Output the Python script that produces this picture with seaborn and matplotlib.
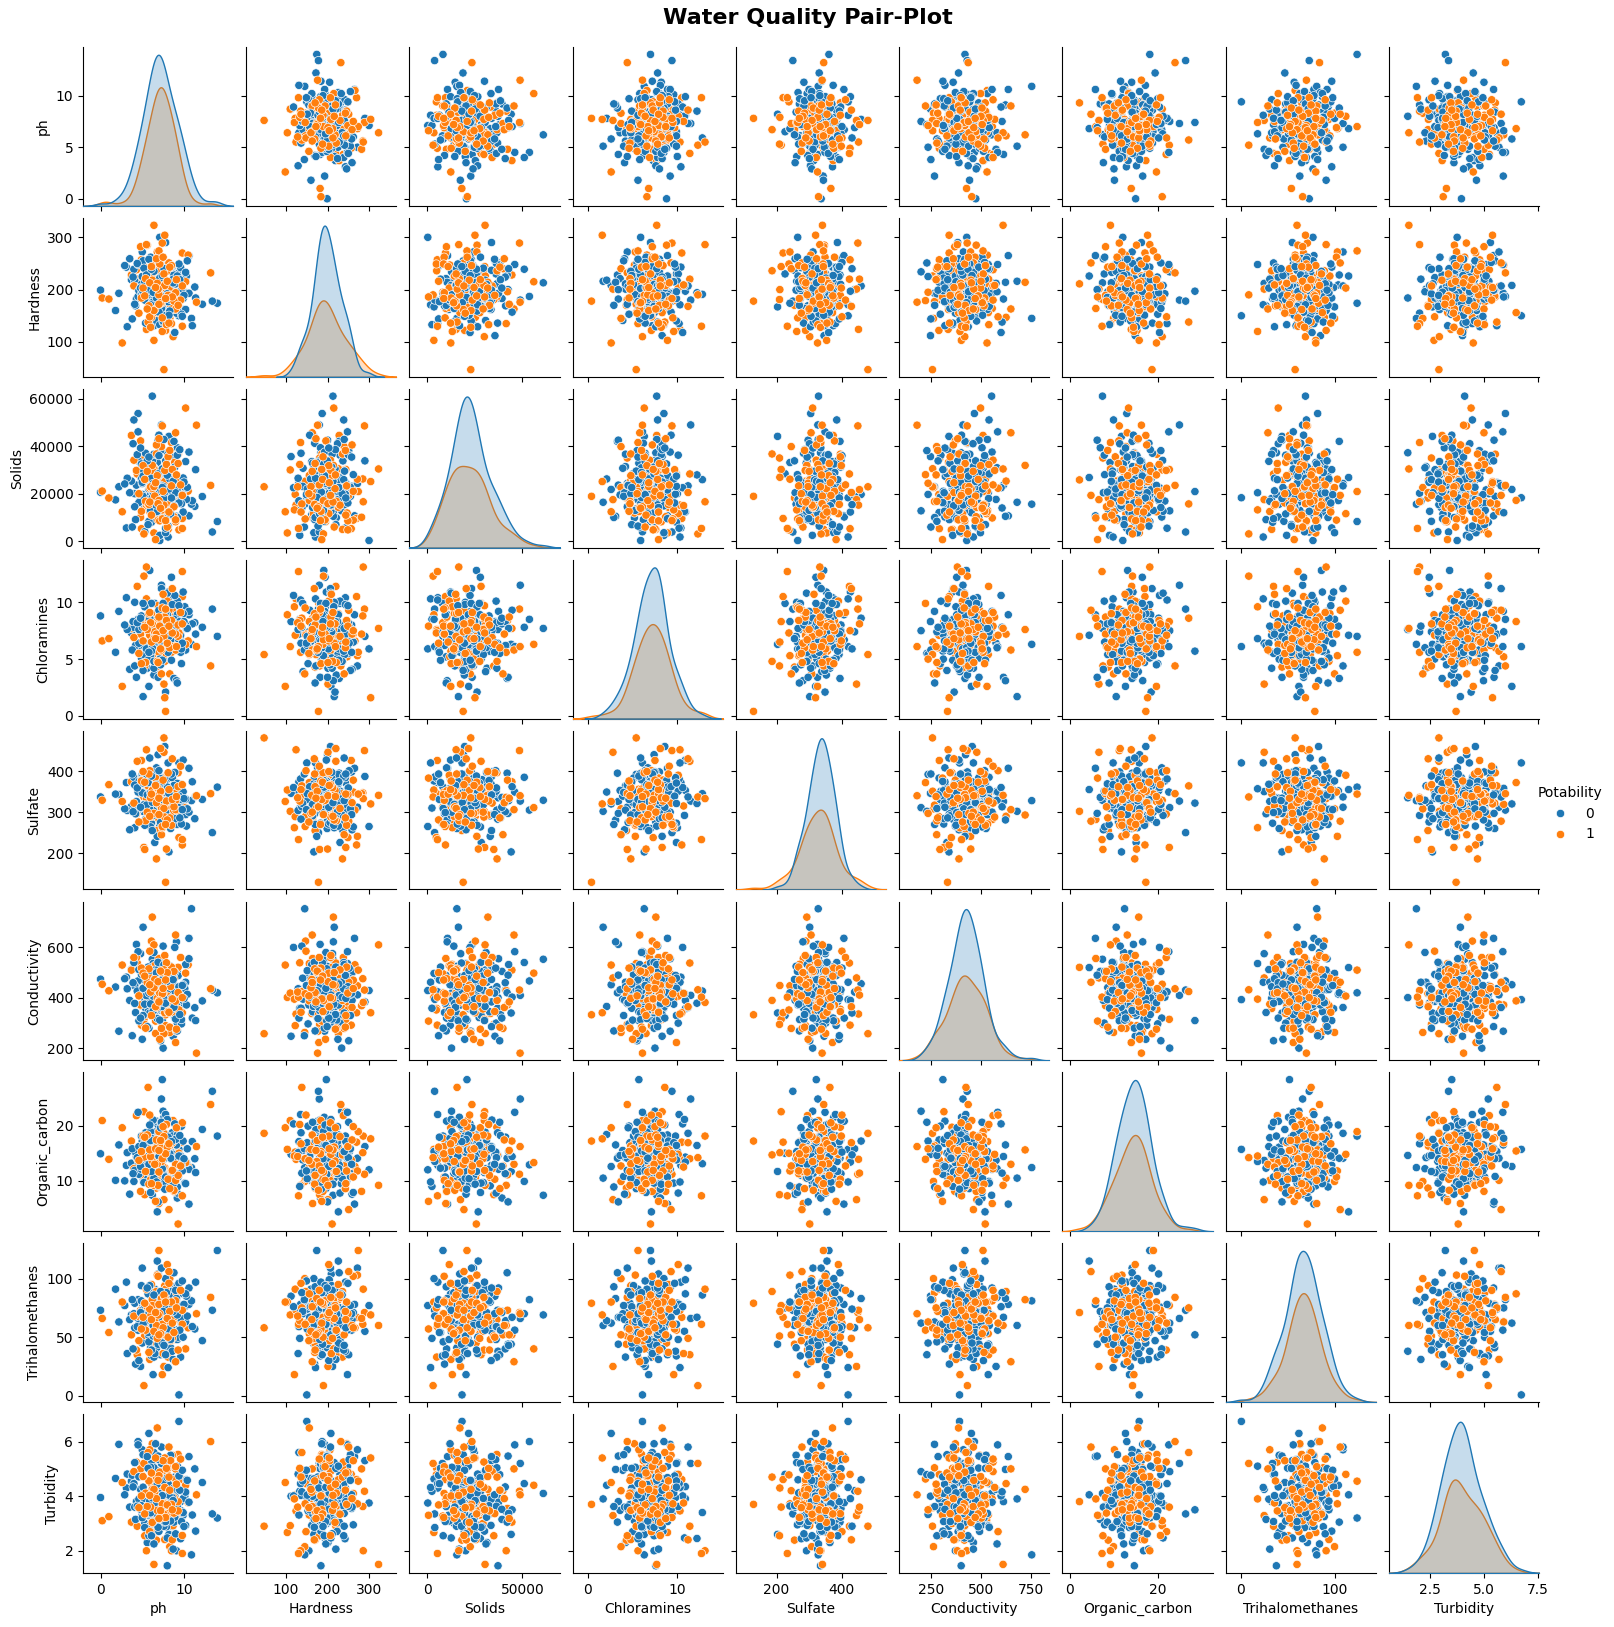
import pandas as pd
import seaborn as sns
import matplotlib
matplotlib.use('Agg')
import matplotlib.pyplot as plt

# hand-read samples: *_a spread/outliers, *_b dense core, *_c outer ring
# class 0 = not potable, class 1 = potable
ph0_a = [7.2, 5.4, 8.9, 6.6, 10.1, 7.8, 4.3, 6.9, 8.2, 0.0,
         7.5, 5.9, 9.4, 6.2, 7.0, 11.3, 8.6, 3.1, 7.4, 6.4,
         5.1, 8.0, 7.7, 9.9, 6.8, 2.2, 7.1, 12.2, 5.6, 8.4,
         6.1, 7.3, 4.8, 9.1, 7.9, 6.5, 14.0, 5.8, 8.7, 7.6,
         3.7, 6.0, 10.6, 7.0, 8.1, 5.3, 6.7, 9.6, 4.5, 7.2,
         13.4, 6.3, 8.5, 1.8, 7.4, 5.0, 9.2, 6.9, 10.9, 7.8]
ph0_b = [8.3, 6.0, 7.4, 9.7, 5.2, 6.8, 8.9, 4.6, 7.9, 6.3,
         10.2, 7.0, 5.7, 8.6, 6.5, 4.1, 7.6, 9.2, 5.9, 7.2,
         8.1, 6.6, 4.9, 9.9, 7.7, 5.5, 8.4, 6.2, 7.1, 9.4,
         5.0, 7.5, 8.8, 6.4, 3.9, 8.0, 6.9, 10.4, 5.3, 7.3,
         9.0, 6.1, 7.8, 4.4, 8.5, 6.7, 9.5, 5.6, 7.0, 8.2,
         4.8, 7.4, 6.0, 9.8, 5.8, 8.7, 6.3, 7.6, 10.0, 5.1]
ph0_c = [7.0, 6.7, 10.2, 7.1, 8.4, 11.0, 4.0, 5.4, 9.2, 7.5,
         4.1, 4.5, 7.2, 8.8, 6.4, 4.2, 3.5, 6.3, 9.9, 8.1,
         5.0, 8.5, 10.6, 4.9, 6.8, 9.3, 9.7, 5.8, 3.2, 7.3,
         2.9, 8.7, 5.7, 6.1, 9.1, 6.5, 6.0, 6.6, 7.8, 5.9,
         7.8, 6.9, 9.2, 6.4, 5.3, 6.2, 3.8, 8.9, 11.4, 9.6,
         7.5, 6.4, 7.2, 8.0, 5.8, 10.3, 7.6, 5.1, 6.7, 4.6]
ph1_a = [7.0, 8.3, 6.1, 7.6, 5.2, 9.3, 6.8, 7.3, 0.2, 8.0,
         6.4, 7.8, 10.2, 5.7, 7.1, 6.9, 8.6, 4.0, 7.4, 13.2,
         6.6, 7.9, 5.5, 9.0, 7.2, 2.6, 6.3, 8.2, 11.5, 7.5,
         5.9, 6.7, 8.8, 7.7, 1.0, 6.2, 9.8, 7.0, 4.8, 8.4]
ph1_b = [6.2, 8.1, 7.3, 5.4, 9.0, 6.8, 7.7, 4.9, 8.5, 6.5,
         7.1, 9.6, 5.8, 7.9, 6.0, 8.8, 7.4, 5.1, 6.7, 8.3,
         9.3, 6.4, 7.6, 5.6, 8.0, 7.0, 4.6, 8.6, 6.9, 7.5,
         5.9, 9.8, 7.2, 6.1, 8.2, 5.3, 7.8, 6.6, 9.1, 7.0]
ph1_c = [7.0, 7.5, 9.3, 8.0, 9.0, 6.2, 6.7, 6.5, 8.1, 7.4,
         7.7, 6.4, 8.9, 4.9, 5.2, 8.6, 8.3, 5.6, 3.7, 6.1,
         4.4, 9.8, 5.3, 8.7, 10.5, 9.1, 4.3, 7.6, 8.5, 7.8,
         5.9, 9.4, 7.7, 5.5, 4.8, 6.6, 7.2, 6.8, 6.9, 9.0]

hardness0_a = [203, 188, 176, 221, 195, 290, 182, 209, 167, 199,
               234, 191, 150, 213, 186, 205, 178, 243, 197, 131,
               216, 184, 207, 162, 226, 193, 300, 172, 201, 189,
               258, 180, 212, 155, 196, 230, 174, 208, 112, 192,
               219, 185, 265, 169, 204, 198, 141, 224, 187, 210,
               178, 248, 194, 160, 214, 272, 183, 200, 145, 218]
hardness0_b = [159, 190, 166, 202, 241, 177, 210, 198, 186, 204,
               233, 252, 220, 243, 182, 172, 188, 226, 194, 206,
               177, 208, 191, 183, 185, 228, 181, 175, 222, 249,
               198, 140, 179, 235, 224, 192, 168, 255, 215, 164,
               211, 239, 187, 250, 244, 184, 219, 199, 157, 151,
               203, 227, 171, 149, 258, 213, 195, 240, 189, 196]
hardness0_c = [223, 176, 162, 133, 199, 131, 239, 136, 230, 205,
               216, 248, 251, 228, 221, 169, 259, 182, 197, 171,
               225, 187, 193, 210, 174, 189, 153, 201, 129, 207,
               246, 220, 164, 183, 214, 218, 262, 186, 167, 240,
               135, 200, 170, 196, 180, 237, 144, 118, 184, 242,
               138, 211, 168, 208, 192, 226, 151, 255, 179, 203]
hardness1_a = [198, 172, 226, 47, 190, 211, 156, 240, 184, 203,
               323, 178, 215, 138, 195, 262, 168, 207, 120, 232,
               186, 200, 286, 163, 220, 98, 193, 251, 176, 209,
               148, 236, 189, 304, 182, 214, 130, 274, 196, 205]
hardness1_b = [218, 189, 174, 221, 194, 212, 208, 184, 246, 162,
               249, 180, 169, 133, 128, 178, 146, 203, 259, 243,
               170, 160, 230, 163, 216, 190, 155, 186, 201, 262,
               213, 207, 175, 244, 136, 188, 183, 204, 219, 172]
hardness1_c = [164, 213, 186, 172, 179, 247, 170, 166, 236, 289,
               199, 103, 162, 257, 244, 188, 145, 285, 228, 147,
               220, 270, 181, 110, 266, 177, 238, 201, 135, 122,
               206, 249, 156, 124, 282, 226, 193, 272, 184, 195]

solids0_a = [21400, 15800, 27300, 9900, 19200, 33800, 23600, 17100, 44100, 20600,
             12800, 25900, 18300, 61000, 22400, 14700, 29600, 5600, 20900, 24700,
             16400, 37200, 19700, 11200, 26800, 22900, 320, 18800, 31400, 15300,
             23100, 48900, 17600, 20200, 13600, 28400, 8300, 21800, 35600, 16900,
             25300, 19500, 10700, 41200, 22100, 14200, 30700, 18000, 53700, 23900,
             3900, 20400, 27900, 17400, 12100, 24300, 39300, 19000, 15600, 26200]
solids0_b = [26200, 13000, 30400, 15800, 29500, 12600, 31200, 16300, 28900, 20200,
             22300, 36000, 7000, 19800, 21200, 14500, 18000, 21600, 17600, 23500,
             6400, 15300, 32500, 26600, 20700, 25800, 11500, 18400, 21000, 16100,
             24800, 23100, 14900, 20000, 41000, 27800, 28300, 22700, 26200, 14200,
             20400, 25900, 9500, 36400, 18200, 24500, 38500, 33800, 44600, 22000,
             39200, 22600, 26500, 19600, 35400, 25200, 24300, 42800, 24900, 27400]
solids0_c = [24500, 10200, 33500, 2500, 15600, 17000, 51000, 37000, 36200, 28300,
             20000, 46000, 38100, 42000, 19500, 9100, 20400, 34000, 12300, 1800,
             19700, 22900, 37500, 26200, 33100, 15900, 18600, 17300, 26500, 23300,
             24100, 16800, 32800, 8000, 10500, 30500, 28000, 12000, 3600, 15400,
             5500, 42500, 10000, 30900, 4000, 33800, 6000, 22500, 30100, 24800,
             14000, 36600, 24300, 12600, 8400, 17600, 21400, 18900, 20200, 33600]
solids1_a = [19800, 27600, 14300, 22900, 3100, 25800, 17200, 39800, 21100, 11600,
             30400, 18900, 56000, 15700, 24400, 8900, 20500, 34100, 13200, 23500,
             700, 26900, 16600, 45600, 21700, 12400, 29300, 19300, 48800, 15000,
             22300, 36700, 10300, 25100, 18200, 31900, 5400, 20900, 42200, 16100]
solids1_b = [22100, 35500, 14200, 16800, 9000, 27600, 29800, 12600, 23300, 19000,
             8600, 23700, 15500, 32300, 22900, 14500, 9400, 31800, 40500, 38200,
             32700, 23000, 15200, 29400, 6000, 17100, 20000, 30200, 15800, 21000,
             16500, 19300, 13900, 11000, 12300, 26000, 8700, 24600, 27900, 43100]
solids1_c = [9800, 25900, 36600, 13000, 28000, 11900, 18200, 11600, 5000, 48500,
             25600, 3500, 33200, 5300, 30200, 14200, 22600, 26200, 44500, 25300,
             28300, 9600, 35000, 30000, 21100, 16700, 29800, 17500, 41500, 19700,
             12500, 4800, 27700, 15200, 10100, 30500, 25700, 26100, 30100, 8200]

chloramines0_a = [6.8, 8.4, 7.3, 5.2, 9.6, 7.0, 3.4, 7.9, 6.3, 8.8,
                  7.5, 12.8, 6.1, 7.7, 4.7, 8.2, 6.9, 10.4, 5.7, 7.2,
                  1.7, 7.6, 8.6, 6.5, 7.1, 9.2, 5.9, 7.8, 4.2, 6.7,
                  8.0, 11.5, 6.4, 7.4, 5.4, 9.9, 7.0, 2.6, 8.3, 6.6,
                  7.3, 5.0, 8.9, 6.2, 10.9, 7.6, 3.9, 7.1, 8.5, 6.0,
                  9.4, 6.8, 12.2, 5.6, 7.7, 4.4, 8.1, 7.4, 6.3, 2.1]
chloramines0_b = [6.8, 5.3, 6.9, 5.9, 5.4, 6.6, 7.4, 7.6, 6.0, 6.5,
                  8.0, 6.4, 4.9, 9.8, 7.2, 4.4, 7.0, 8.9, 8.6, 4.5,
                  5.6, 7.8, 8.8, 9.0, 8.1, 5.9, 6.7, 6.0, 5.0, 9.7,
                  7.8, 9.9, 8.5, 4.8, 8.3, 8.9, 7.4, 7.7, 9.6, 7.9,
                  8.0, 5.7, 8.9, 8.2, 7.2, 6.6, 8.3, 7.8, 9.3, 7.0,
                  8.6, 4.9, 8.1, 6.4, 5.6, 8.2, 7.9, 7.7, 8.3, 9.9]
chloramines0_c = [8.4, 6.7, 5.8, 8.5, 7.0, 8.1, 7.8, 6.4, 10.1, 5.0,
                  10.0, 6.1, 5.5, 3.3, 3.6, 6.2, 4.1, 7.5, 10.9, 10.3,
                  5.4, 4.9, 9.2, 5.1, 8.3, 6.8, 4.6, 6.3, 7.6, 11.2,
                  8.0, 7.9, 5.7, 9.9, 3.1, 6.6, 6.5, 7.4, 8.5, 5.9,
                  10.2, 3.4, 2.9, 6.0, 6.1, 6.8, 5.8, 10.6, 7.2, 5.6,
                  7.8, 4.2, 7.5, 10.8, 7.4, 7.7, 6.2, 4.0, 8.4, 6.4]
chloramines1_a = [7.4, 6.0, 9.0, 5.4, 12.3, 7.0, 8.3, 3.7, 6.6, 10.1,
                  7.7, 0.4, 6.3, 8.6, 5.0, 7.2, 11.2, 6.9, 9.6, 4.4,
                  7.9, 6.5, 13.1, 5.8, 8.1, 2.6, 7.3, 9.3, 6.1, 10.7,
                  7.1, 4.8, 8.7, 1.6, 6.8, 7.6, 12.7, 5.6, 8.4, 6.2]
chloramines1_b = [8.1, 6.3, 5.8, 4.7, 7.2, 4.8, 8.7, 4.6, 8.4, 7.4,
                  7.9, 9.1, 9.0, 8.4, 8.2, 6.1, 9.5, 6.6, 7.2, 6.0,
                  8.0, 6.8, 7.0, 7.6, 6.4, 6.7, 5.5, 7.3, 4.7, 7.5,
                  9.1, 8.1, 5.9, 6.5, 7.9, 7.8, 9.4, 6.8, 6.1, 8.7]
chloramines1_c = [8.6, 5.3, 6.0, 5.4, 9.9, 5.2, 4.3, 7.0, 7.6, 9.4,
                  4.8, 8.9, 8.2, 7.5, 8.3, 9.3, 3.7, 8.8, 7.7, 7.2,
                  11.4, 10.5, 4.4, 6.1, 6.6, 6.3, 7.9, 2.8, 5.6, 7.1,
                  5.7, 7.3, 5.4, 10.3, 7.2, 6.5, 8.8, 5.3, 9.7, 8.2]

sulfate0_a = [341, 318, 367, 299, 333, 387, 326, 352, 203, 337,
              311, 345, 420, 329, 358, 284, 340, 372, 322, 348,
              302, 335, 460, 316, 355, 343, 265, 331, 364, 308,
              398, 327, 350, 292, 338, 226, 361, 320, 346, 376,
              314, 334, 407, 324, 353, 276, 339, 368, 305, 332,
              250, 357, 321, 344, 383, 312, 336, 440, 328, 349]
sulfate0_b = [346, 300, 368, 271, 318, 322, 397, 375, 379, 356,
              332, 401, 372, 384, 330, 366, 334, 370, 307, 275,
              331, 341, 377, 350, 369, 317, 327, 324, 352, 339,
              347, 321, 365, 293, 301, 361, 355, 308, 268, 319,
              284, 388, 299, 359, 393, 367, 286, 342, 362, 345,
              312, 374, 348, 306, 294, 323, 336, 328, 333, 371]
sulfate0_c = [344, 408, 294, 310, 260, 374, 385, 283, 351, 324,
              262, 349, 302, 395, 353, 296, 257, 398, 427, 420,
              392, 354, 300, 383, 241, 312, 331, 388, 304, 337,
              308, 326, 291, 273, 281, 366, 264, 358, 376, 432,
              381, 297, 270, 329, 386, 255, 393, 360, 339, 276,
              313, 305, 382, 292, 309, 266, 356, 348, 333, 368]
sulfate1_a = [318, 356, 289, 481, 337, 302, 372, 245, 329, 390,
              341, 129, 311, 364, 297, 349, 430, 322, 262, 345,
              383, 210, 333, 306, 455, 326, 358, 278, 340, 315,
              401, 186, 352, 320, 367, 293, 233, 344, 378, 330]
sulfate1_b = [353, 396, 311, 279, 329, 360, 288, 376, 268, 341,
              343, 412, 393, 327, 335, 313, 265, 399, 323, 286,
              362, 297, 309, 300, 281, 294, 276, 331, 340, 378,
              290, 367, 351, 344, 355, 373, 270, 365, 338, 334]
sulfate1_c = [282, 268, 396, 271, 372, 319, 255, 310, 345, 450,
              362, 354, 292, 426, 214, 322, 308, 347, 374, 290,
              424, 220, 209, 302, 305, 317, 295, 446, 336, 289,
              356, 238, 343, 452, 345, 351, 300, 241, 370, 312]

conductivity0_a = [458, 405, 322, 489, 437, 384, 612, 415, 340, 474,
                   201, 427, 393, 553, 449, 361, 418, 482, 310, 436,
                   680, 401, 456, 375, 520, 268, 429, 388, 462, 345,
                   497, 410, 575, 372, 441, 330, 420, 452, 248, 403,
                   513, 386, 636, 432, 357, 470, 395, 398, 467, 352,
                   431, 536, 379, 443, 291, 412, 505, 423, 753, 366]
conductivity0_b = [474, 390, 366, 314, 431, 318, 502, 309, 486, 441,
                   462, 518, 522, 489, 476, 378, 538, 400, 433, 381,
                   471, 411, 421, 452, 393, 409, 350, 428, 312, 444,
                   515, 478, 363, 402, 460, 466, 541, 414, 375, 505,
                   316, 435, 379, 427, 398, 499, 334, 286, 403, 508,
                   320, 455, 376, 449, 419, 472, 347, 532, 397, 438]
conductivity0_c = [493, 320, 532, 359, 525, 320, 540, 359, 300, 420,
                   448, 583, 230, 420, 432, 342, 390, 432, 390, 462,
                   236, 359, 555, 493, 420, 488, 297, 386, 436, 362,
                   476, 462, 345, 418, 622, 510, 505, 452, 497, 340,
                   424, 490, 269, 580, 394, 473, 250, 600, 310, 446,
                   605, 444, 489, 417, 280, 372, 479, 330, 398, 512]
conductivity1_a = [415, 399, 478, 258, 432, 521, 388, 279, 454, 407,
                   610, 333, 498, 425, 236, 470, 365, 560, 395, 436,
                   308, 449, 382, 649, 411, 530, 356, 462, 181, 418,
                   585, 390, 476, 341, 428, 720, 403, 510, 372, 445]
conductivity1_b = [450, 346, 502, 280, 387, 398, 568, 518, 522, 473,
                   419, 560, 515, 539, 423, 505, 416, 498, 362, 284,
                   421, 440, 511, 461, 500, 389, 408, 396, 464, 437,
                   452, 401, 506, 330, 343, 486, 471, 365, 276, 384]
conductivity1_c = [556, 446, 355, 533, 223, 372, 417, 528, 358, 431,
                   370, 402, 338, 292, 315, 493, 263, 476, 510, 625,
                   538, 341, 295, 419, 531, 268, 560, 479, 429, 290,
                   375, 352, 536, 336, 369, 259, 474, 448, 414, 496]

organic_carbon0_a = [15.1, 12.3, 17.6, 13.8, 9.6, 16.2, 14.4, 20.1, 11.7, 14.9,
                     22.6, 13.1, 15.7, 7.4, 16.9, 14.0, 18.7, 12.8, 28.3, 15.3,
                     10.5, 14.6, 17.2, 13.4, 4.4, 16.5, 12.0, 19.3, 14.2, 15.9,
                     11.3, 24.8, 13.7, 16.7, 8.6, 15.0, 18.1, 12.6, 14.8, 21.5,
                     13.2, 16.1, 5.8, 17.9, 14.3, 11.0, 15.5, 19.8, 12.9, 14.7,
                     26.2, 13.5, 16.4, 10.1, 17.4, 14.1, 6.9, 15.8, 12.4, 18.4]
organic_carbon0_b = [14.9, 18.9, 11.8, 12.8, 9.7, 16.8, 17.4, 11.2, 15.4, 13.7,
                     9.5, 15.2, 12.3, 18.1, 15.6, 11.9, 9.9, 18.3, 20.1, 19.6,
                     17.9, 15.5, 12.1, 17.2, 8.5, 12.9, 14.1, 17.6, 12.4, 14.5,
                     12.7, 13.8, 11.6, 10.5, 11.3, 16.3, 9.6, 15.8, 16.9, 20.6,
                     17.5, 11.7, 10.7, 14.2, 17.1, 9.8, 18.2, 15.9, 14.4, 10.4,
                     12.6, 12.2, 17.3, 11.8, 13.0, 9.4, 15.7, 15.3, 14.0, 16.4]
organic_carbon0_c = [16.4, 20.8, 12.2, 9.0, 14.0, 17.1, 9.9, 18.7, 7.8, 15.2,
                     15.3, 22.4, 20.6, 14.1, 14.6, 12.3, 7.6, 21.0, 13.4, 9.8,
                     17.2, 10.8, 12.1, 18.1, 9.1, 10.7, 19.9, 13.9, 15.1, 18.6,
                     10.0, 17.8, 16.3, 15.0, 16.5, 18.8, 7.9, 17.7, 15.3, 14.7,
                     22.0, 6.2, 8.9, 12.2, 13.5, 12.8, 15.8, 20.3, 11.5, 14.5,
                     11.4, 14.8, 10.9, 21.1, 14.6, 13.3, 16.9, 10.8, 17.5, 16.2]
organic_carbon1_a = [13.6, 16.4, 11.9, 18.6, 14.2, 2.2, 15.4, 12.7, 20.9, 14.8,
                     9.2, 17.2, 13.3, 26.9, 15.8, 10.7, 16.9, 12.2, 14.5, 23.8,
                     6.3, 15.1, 18.1, 13.0, 11.4, 19.6, 14.0, 4.8, 16.2, 12.5,
                     21.9, 14.7, 8.1, 17.6, 13.9, 15.6, 7.3, 18.9, 11.1, 14.3]
organic_carbon1_b = [13.6, 10.3, 13.5, 11.7, 10.1, 13.1, 14.8, 15.3, 11.8, 13.0,
                     16.2, 12.7, 9.4, 20.2, 14.4, 8.3, 14.0, 18.1, 17.4, 8.6,
                     11.0, 15.7, 18.0, 18.3, 16.1, 11.6, 13.7, 11.9, 9.2, 19.8,
                     15.6, 20.5, 17.3, 9.5, 16.7, 17.9, 14.9, 15.8, 19.6, 15.5]
organic_carbon1_c = [5.9, 11.3, 19.7, 17.1, 13.9, 16.9, 8.7, 12.7, 14.5, 11.2,
                     16.3, 15.7, 10.6, 13.8, 22.5, 17.8, 9.9, 15.1, 17.2, 10.5,
                     14.0, 17.0, 7.5, 20.9, 12.6, 16.4, 21.8, 6.6, 9.2, 15.2,
                     10.1, 15.0, 12.4, 13.9, 8.1, 16.2, 13.0, 11.8, 16.5, 17.7]

trihalomethanes0_a = [49, 70, 93, 61, 76, 55, 67, 104, 44, 73,
                      62, 86, 0.7, 69, 79, 57, 65, 97, 52, 74,
                      60, 38, 83, 68, 115, 63, 77, 47, 71, 89,
                      56, 66, 25, 80, 59, 75, 124, 62, 85, 51,
                      69, 41, 78, 64, 99, 54, 70, 33, 82, 61,
                      73, 18, 67, 91, 58, 109, 72, 58, 81, 64]
trihalomethanes0_b = [76, 63, 56, 77, 65, 73, 71, 61, 88, 51,
                      87, 59, 54, 38, 36, 58, 44, 69, 94, 89,
                      54, 52, 81, 50, 75, 64, 48, 62, 70, 96,
                      73, 72, 57, 86, 40, 63, 60, 68, 77, 55,
                      90, 39, 35, 59, 58, 62, 56, 92, 67, 57,
                      71, 45, 69, 98, 70, 72, 60, 43, 78, 61]
trihalomethanes0_c = [62, 40, 63, 49, 41, 59, 70, 73, 48, 58,
                      79, 56, 35, 105, 67, 27, 65, 92, 87, 24,
                      45, 76, 92, 94, 80, 50, 61, 51, 36, 109,
                      77, 31, 87, 34, 83, 91, 71, 75, 100, 74,
                      78, 44, 93, 84, 68, 60, 82, 76, 97, 66,
                      88, 33, 79, 55, 46, 85, 74, 77, 81, 30]
trihalomethanes1_a = [77, 64, 95, 58, 8.6, 71, 87, 52, 66, 112,
                      60, 79, 40, 75, 63, 102, 49, 68, 18, 84,
                      57, 72, 91, 29, 65, 80, 55, 106, 70, 36,
                      62, 89, 67, 69, 54, 82, 61, 124, 73, 47]
trihalomethanes1_b = [77, 50, 83, 56, 81, 49, 84, 57, 80, 65,
                      70, 90, 37, 64, 68, 54, 61, 67, 60, 72,
                      39, 55, 86, 76, 66, 78, 47, 62, 69, 58,
                      74, 73, 53, 65, 96, 79, 80, 71, 75, 52]
trihalomethanes1_c = [81, 62, 65, 74, 56, 63, 44, 68, 33, 71,
                      94, 80, 48, 59, 77, 78, 100, 61, 52, 89,
                      35, 67, 51, 69, 58, 88, 39, 25, 60, 91,
                      31, 75, 53, 73, 66, 82, 45, 103, 57, 70]

turbidity0_a = [4.2, 3.6, 4.7, 3.1, 4.0, 5.3, 3.8, 4.4, 2.6, 3.95,
                4.9, 3.4, 6.74, 4.1, 3.7, 5.0, 2.9, 4.3, 3.5, 5.6,
                3.9, 1.45, 4.6, 3.3, 4.05, 5.9, 3.75, 4.5, 2.3, 4.15,
                3.55, 5.2, 4.25, 2.0, 3.85, 4.8, 3.2, 6.3, 4.0, 3.65,
                4.55, 2.7, 5.45, 3.45, 4.35, 3.0, 4.95, 3.8, 6.0, 4.1,
                3.35, 5.1, 2.45, 4.65, 3.9, 5.7, 3.15, 4.2, 1.85, 4.4]
turbidity0_b = [4.32, 5.06, 3.62, 3.07, 3.92, 4.44, 3.23, 4.71, 2.88, 4.12,
                4.15, 5.34, 5.02, 3.95, 4.02, 3.60, 2.90, 5.10, 3.82, 3.25,
                4.46, 3.38, 3.65, 3.40, 3.05, 3.36, 3.09, 3.94, 4.10, 4.74,
                3.21, 4.56, 4.30, 4.14, 4.34, 4.68, 2.86, 4.58, 4.12, 4.00,
                2.62, 2.55, 3.07, 3.63, 3.80, 3.72, 4.22, 5.45, 3.50, 4.04,
                3.52, 4.02, 3.39, 4.95, 4.05, 3.84, 3.07, 3.37, 2.89, 4.33]
turbidity0_c = [2.71, 3.76, 2.93, 4.18, 5.50, 3.31, 4.46, 4.03, 3.62, 4.20,
                5.23, 5.88, 4.79, 3.05, 3.48, 3.15, 3.60, 5.01, 3.91, 4.32,
                3.33, 4.30, 3.78, 3.50, 3.64, 5.03, 3.46, 3.29, 4.81, 5.80,
                4.05, 2.06, 3.35, 5.20, 4.98, 3.74, 2.95, 5.92, 4.63, 2.90,
                4.46, 5.47, 3.62, 2.25, 2.85, 3.66, 4.77, 4.01, 2.72, 2.44,
                4.16, 5.04, 3.15, 2.47, 2.55, 4.60, 3.93, 5.52, 3.73, 3.89]
turbidity1_a = [4.0, 3.4, 4.6, 2.9, 5.2, 3.8, 6.5, 4.2, 3.1, 4.8,
                1.5, 3.7, 4.4, 5.6, 3.5, 4.1, 2.4, 4.9, 3.9, 6.0,
                3.3, 4.3, 2.0, 5.0, 3.6, 4.5, 3.0, 5.8, 4.05, 3.75,
                2.7, 4.7, 3.95, 5.4, 3.25, 4.25, 1.9, 4.55, 3.55, 5.3]
turbidity1_b = [3.04, 3.36, 3.20, 4.11, 5.08, 3.48, 4.32, 4.01, 3.70, 4.15,
                4.88, 5.36, 4.56, 5.02, 3.60, 3.38, 3.72, 4.72, 3.91, 4.22,
                3.46, 4.25, 3.34, 3.62, 3.68, 4.75, 3.58, 3.50, 4.58, 5.30,
                4.03, 2.56, 3.47, 4.85, 4.70, 3.35, 3.22, 5.40, 4.44, 3.18]
turbidity1_c = [3.90, 3.74, 5.53, 3.92, 4.63, 5.92, 2.39, 3.12, 5.02, 4.18,
                2.41, 2.67, 4.02, 4.80, 3.60, 5.50, 2.15, 3.62, 3.05, 4.46,
                2.90, 4.61, 2.55, 2.92, 3.76, 5.04, 5.25, 3.29, 2.00, 4.04,
                5.70, 4.78, 3.31, 3.46, 5.00, 3.58, 3.48, 3.72, 4.32, 3.27]

# x range of each column
x_limits = {
    'ph': (-2.1, 15.9),
    'Hardness': (4, 366),
    'Solids': (-9300, 69600),
    'Chloramines': (-1.7, 15.1),
    'Sulfate': (75, 537),
    'Conductivity': (92, 841),
    'Organic_carbon': (-1.65, 32.3),
    'Trihalomethanes': (-16, 144),
    'Turbidity': (0.57, 7.57),
}


def stack(a0, b0, c0, a1, b1, c1):
    # mix the two classes so neither colour sits entirely on top
    return a0 + c1 + c0 + a1 + b0 + b1


df = pd.DataFrame({
    'ph': stack(ph0_a, ph0_b, ph0_c, ph1_a, ph1_b, ph1_c),
    'Hardness': stack(hardness0_a, hardness0_b, hardness0_c,
                      hardness1_a, hardness1_b, hardness1_c),
    'Solids': stack(solids0_a, solids0_b, solids0_c,
                    solids1_a, solids1_b, solids1_c),
    'Chloramines': stack(chloramines0_a, chloramines0_b, chloramines0_c,
                         chloramines1_a, chloramines1_b, chloramines1_c),
    'Sulfate': stack(sulfate0_a, sulfate0_b, sulfate0_c,
                     sulfate1_a, sulfate1_b, sulfate1_c),
    'Conductivity': stack(conductivity0_a, conductivity0_b, conductivity0_c,
                          conductivity1_a, conductivity1_b, conductivity1_c),
    'Organic_carbon': stack(organic_carbon0_a, organic_carbon0_b, organic_carbon0_c,
                            organic_carbon1_a, organic_carbon1_b, organic_carbon1_c),
    'Trihalomethanes': stack(trihalomethanes0_a, trihalomethanes0_b, trihalomethanes0_c,
                             trihalomethanes1_a, trihalomethanes1_b, trihalomethanes1_c),
    'Turbidity': stack(turbidity0_a, turbidity0_b, turbidity0_c,
                       turbidity1_a, turbidity1_b, turbidity1_c),
    'Potability': stack([0] * len(ph0_a), [0] * len(ph0_b), [0] * len(ph0_c),
                        [1] * len(ph1_a), [1] * len(ph1_b), [1] * len(ph1_c)),
})

g = sns.pairplot(df, hue='Potability', height=1.75)
fig = g.figure
fig.set_size_inches(16.15, 16.27)
fig.subplots_adjust(left=0.0514, right=0.953, bottom=0.0332, top=0.971,
                    wspace=0.087, hspace=0.076)

for j, col in enumerate(g.x_vars):
    g.axes[-1, j].set_xlim(x_limits[col])

sns.move_legend(g, 'center right', bbox_to_anchor=(1.0, 0.5))
fig.suptitle('Water Quality Pair-Plot', fontsize=16, fontweight='bold', y=0.995)

fig.savefig('out.png', dpi=100)
